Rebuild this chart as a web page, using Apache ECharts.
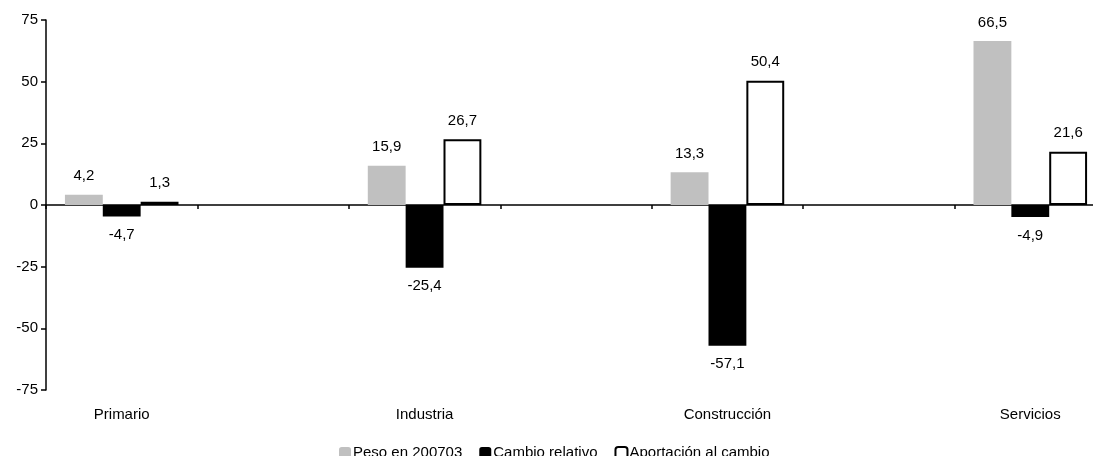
<!DOCTYPE html>
<html>
<head>
<meta charset="utf-8">
<script src="https://cdn.jsdelivr.net/npm/echarts@6/dist/echarts.min.js"></script>
<style>
  html, body { margin: 0; padding: 0; background: #fff; overflow: hidden; }
  #chart { width: 1110px; height: 456px; }
</style>
</head>
<body>
<div id="chart"></div>
<script>
// categorias (las vacias son huecos entre sectores)
const categories = ['Primario', '', 'Industria', '', 'Construcción', '', 'Servicios'];
const seriesNames = ['Peso en 200703', 'Cambio relativo', 'Aportación al cambio'];
const peso = [4.2, null, 15.9, null, 13.3, null, 66.5];
const cambio = [-4.7, null, -25.4, null, -57.1, null, -4.9];
const aportacion = [1.3, null, 26.7, null, 50.4, null, 21.6];
const yTicks = { min: -75, max: 75, interval: 25 };

const font = 'Arial, "Liberation Sans", sans-serif';

function toItems(arr) {
  return arr.map(function (v) {
    if (v === null) return null;
    return {
      value: v,
      label: { position: v < 0 ? 'bottom' : 'top', distance: 11 }
    };
  });
}

function fmt(p) {
  return p.value.toFixed(1).replace('.', ',');
}

const labelStyle = { show: true, formatter: fmt, color: '#000', fontSize: 15, fontFamily: font };

const chart = echarts.init(document.getElementById('chart'), null, { renderer: 'canvas' });
chart.setOption({
  backgroundColor: '#fff',
  animation: false,
  textStyle: { fontFamily: font },
  // la rejilla sigue un poco mas alla del borde derecho, como en el original
  grid: { left: 46, top: 20, width: 1060, height: 370, containLabel: false },
  legend: {
    left: 334,
    top: 440,
    itemWidth: 12,
    itemHeight: 11,
    itemGap: 17,
    itemStyle: { borderWidth: 2 },
    textStyle: { fontSize: 15, color: '#000', fontFamily: font, padding: [0, 0, 0, -3] },
    data: seriesNames
  },
  xAxis: [
    {
      type: 'category',
      data: categories,
      axisLine: { onZero: true, lineStyle: { color: '#000', width: 1.5 } },
      axisTick: { show: true, length: 4, lineStyle: { color: '#000', width: 1.5 } },
      axisLabel: { show: false }
    },
    {
      type: 'category',
      data: categories,
      position: 'bottom',
      axisLine: { show: false, onZero: false },
      axisTick: { show: false },
      axisLabel: { show: true, interval: 0, margin: 17, fontSize: 15, color: '#000', fontFamily: font }
    }
  ],
  yAxis: {
    type: 'value',
    min: yTicks.min,
    max: yTicks.max,
    interval: yTicks.interval,
    axisLine: { show: true, lineStyle: { color: '#000', width: 1.5 } },
    axisTick: { show: true, length: 5, lineStyle: { color: '#000', width: 1.5 } },
    axisLabel: { margin: 8, fontSize: 15, color: '#000', fontFamily: font },
    splitLine: { show: false }
  },
  series: [
    {
      name: seriesNames[0], type: 'bar', barGap: 0, barCategoryGap: '25%',
      itemStyle: { color: '#c0c0c0' },
      label: labelStyle,
      data: toItems(peso)
    },
    {
      name: seriesNames[1], type: 'bar', barGap: 0, barCategoryGap: '25%',
      itemStyle: { color: '#000' },
      label: labelStyle,
      data: toItems(cambio)
    },
    {
      name: seriesNames[2], type: 'bar', barGap: 0, barCategoryGap: '25%',
      itemStyle: { color: '#fff', borderColor: '#000', borderWidth: 2 },
      label: labelStyle,
      data: toItems(aportacion)
    }
  ]
});
</script>
</body>
</html>
